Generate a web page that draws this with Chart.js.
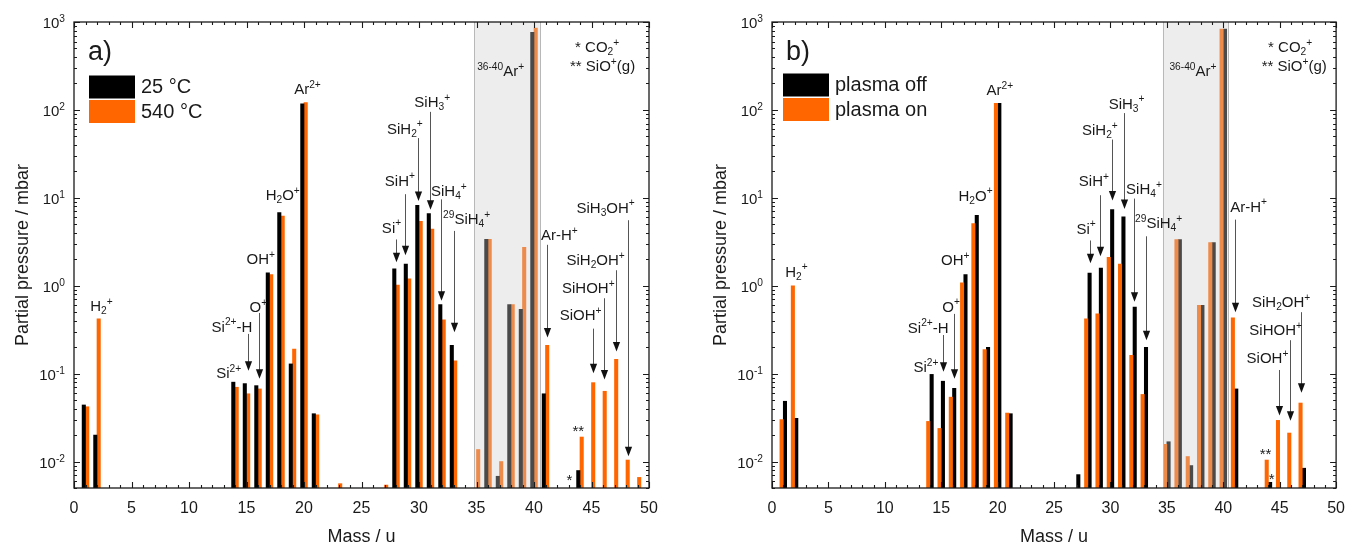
<!DOCTYPE html>
<html>
<head>
<meta charset="utf-8">
<script src="https://cdn.jsdelivr.net/npm/chart.js@4.4.1/dist/chart.umd.min.js"></script>
<style>
  html, body { margin: 0; padding: 0; background: #fff; }
  body { width: 1356px; height: 548px; position: relative; overflow: hidden; }
  canvas { position: absolute; top: 0; }
</style>
</head>
<body>
<canvas id="chartA" width="698" height="548" style="left:0"></canvas>
<canvas id="chartB" width="658" height="548" style="left:698px"></canvas>
<script>
// ---------------- DATA ----------------
// Panel a) : 25 °C vs 540 °C
const massesA = [1, 2, 14, 15, 16, 17, 18, 19, 20, 21, 23, 27, 28, 29, 30, 31, 32, 33, 35, 36, 37, 38, 39, 40, 41, 44, 45, 46, 47, 48, 49];
const temp25 = [0.044, 0.020, 0.080, 0.077, 0.073, 1.40, 6.8, 0.129, 117, 0.035, null, null, 1.56, 1.76, 8.2, 6.6, 0.61, 0.21, null, 3.37, 0.0068, 0.61, 0.54, 764, 0.059, 0.0079, null, null, null, null, null];
const temp540 = [0.042, 0.42, 0.070, 0.059, 0.067, 1.34, 6.2, 0.19, 121, 0.034, 0.0056, 0.0054, 1.02, 1.20, 5.4, 4.4, 0.41, 0.14, 0.0137, 3.37, 0.010, 0.61, 2.74, 853, 0.21, 0.019, 0.079, 0.063, 0.145, 0.0104, 0.0066];

// Panel b) : plasma off vs plasma on
const massesB = [1, 2, 14, 15, 16, 17, 18, 19, 20, 21, 27, 28, 29, 30, 31, 32, 33, 35, 36, 37, 38, 39, 40, 41, 44, 45, 46, 47];
const plasmaOff = [0.0485, 0.031, 0.098, 0.082, 0.068, 1.34, 6.3, 0.199, 119, 0.035, 0.0071, 1.39, 1.59, 7.35, 6.06, 0.57, 0.199, 0.0168, 3.34, 0.009, 0.60, 3.10, 830, 0.067, 0.0058, null, null, 0.0084];
const plasmaOn = [0.030, 1.0, 0.0286, 0.0238, 0.054, 1.08, 5.1, 0.188, 119, 0.0356, null, 0.42, 0.48, 2.11, 1.76, 0.161, 0.058, 0.0157, 3.34, 0.0114, 0.60, 3.10, 830, 0.43, 0.0104, 0.0294, 0.0211, 0.0463];

// Axis ranges & tick labels
const massTicks = [0, 5, 10, 15, 20, 25, 30, 35, 40, 45, 50];
const pressureExponents = [-2, -1, 0, 1, 2, 3];
const argonRange = { a: [34.8, 40.5], b: [34.65, 40.4] };

// Peak labels: [text, mass, pressure]
const peakLabelsA = [
  ['H_2^+', 2.38, 0.59], ['Si^{2+}', 13.45, 0.103], ['Si^{2+}-H', 13.74, 0.346], ['O^+', 16.03, 0.578],
  ['OH^+', 16.24, 2.03], ['H_2O^+', 18.15, 10.8], ['Ar^{2+}', 20.3, 175], ['Si^+', 27.61, 4.62],
  ['SiH^+', 28.34, 15.9], ['SiH_2^+', 28.77, 61.8], ['SiH_3^+', 31.15, 123], ['SiH_4^+', 32.6, 12.1],
  ['^{29}SiH_4^+', 34.14, 5.81], ['^{36-40}Ar^+', 37.1, 280], ['Ar-H^+', 42.2, 3.78],
  ['SiH_3OH^+', 46.23, 7.8], ['SiH_2OH^+', 45.36, 1.97], ['SiHOH^+', 44.72, 0.948], ['SiOH^+', 44.05, 0.469],
  ['**', 43.85, 0.0224], ['*', 43.07, 0.0062]
];
// Arrows: [mass, from pressure, to pressure]
const arrowsA = [
  [15.15, 0.283, 0.108], [16.1, 0.49, 0.0877], [27.96, 3.36, 1.85], [28.8, 11.0, 2.22],
  [29.87, 47.8, 9.18], [30.95, 95, 7.3], [31.87, 9.6, 0.676], [33.06, 4.2, 0.296],
  [41.15, 2.92, 0.258], [48.14, 5.56, 0.0115], [47.13, 1.5, 0.179], [46.11, 0.72, 0.086], [45.16, 0.325, 0.101]
];
const peakLabelsB = [
  ['H_2^+', 2.16, 1.46], ['Si^{2+}', 13.65, 0.119], ['Si^{2+}-H', 13.85, 0.337], ['O^+', 15.87, 0.583],
  ['OH^+', 16.25, 1.97], ['H_2O^+', 18.04, 10.7], ['Ar^{2+}', 20.2, 171], ['Si^+', 27.84, 4.5],
  ['SiH^+', 28.53, 15.5], ['SiH_2^+', 29.06, 60], ['SiH_3^+', 31.43, 119], ['SiH_4^+', 32.97, 12.7],
  ['^{29}SiH_4^+', 34.27, 5.16], ['^{36-40}Ar^+', 37.31, 280], ['Ar-H^+', 42.24, 8.0],
  ['SiH_2OH^+', 45.13, 0.652], ['SiHOH^+', 44.64, 0.316], ['SiOH^+', 43.92, 0.152],
  ['**', 43.74, 0.01245], ['*', 44.29, 0.0064]
];
const arrowsB = [
  [15.15, 0.275, 0.105], [16.1, 0.478, 0.0877], [28.19, 3.27, 1.8], [29.06, 10.7, 2.16],
  [30.13, 46, 9.35], [31.23, 92, 7.45], [32.1, 9.8, 0.658], [33.14, 3.65, 0.24],
  [41.05, 5.65, 0.499], [46.93, 0.5, 0.0608], [45.92, 0.24, 0.0292], [44.93, 0.11, 0.0335]
];
// Footnotes: [text, mass, pressure] (left aligned)
const notesA = [['* CO_2^+', 43.57, 523], ['** SiO^+(g)', 43.13, 316]];
const notesB = [['* CO_2^+', 43.97, 523], ['** SiO^+(g)', 43.4, 316]];

// ---------------- RENDERING ----------------
const FONT = "'Liberation Sans', Arial, Helvetica, sans-serif";
const INK = '#1a1a1a';
const BLACK = '#000000';
const ORANGE = '#ff6600';

function parseRich(s) {
  const segs = []; let cur = ''; let i = 0;
  const push = (t, m) => { if (t) segs.push({ t, m }); };
  while (i < s.length) {
    const c = s[i];
    if (c === '^' || c === '_') {
      push(cur, 'n'); cur = '';
      let t;
      if (s[i + 1] === '{') { const j = s.indexOf('}', i); t = s.slice(i + 2, j); i = j + 1; }
      else { t = s[i + 1]; i += 2; }
      push(t, c === '^' ? 'sup' : 'sub');
    } else { cur += c; i++; }
  }
  push(cur, 'n');
  return segs;
}

function drawRich(ctx, s, x, y, size, align) {
  const segs = parseRich(s);
  const small = size * 0.68;
  let w = 0;
  const widths = segs.map(sg => {
    ctx.font = (sg.m === 'n' ? size : small) + 'px ' + FONT;
    const ww = ctx.measureText(sg.t).width; w += ww; return ww;
  });
  let cx = align === 'center' ? x - w / 2 : (align === 'right' ? x - w : x);
  const base = y + size * 0.36;
  ctx.textAlign = 'left';
  ctx.textBaseline = 'alphabetic';
  ctx.fillStyle = INK;
  segs.forEach((sg, k) => {
    let by = base;
    if (sg.m === 'sup') by = base - size * 0.42;
    if (sg.m === 'sub') by = base + size * 0.2;
    ctx.font = (sg.m === 'n' ? size : small) + 'px ' + FONT;
    ctx.fillText(sg.t, cx, by);
    cx += widths[k];
  });
}

function makePanelPlugin(cfg) {
  return {
    id: 'panel' + cfg.letter,
    afterDatasetsDraw(chart) {
      const ctx = chart.ctx;
      const xs = chart.scales.x, ys = chart.scales.y;
      const { left, right, top, bottom } = chart.chartArea;
      ctx.save();
      // shaded argon region
      const x0 = xs.getPixelForValue(cfg.region[0]);
      const x1 = xs.getPixelForValue(cfg.region[1]);
      ctx.fillStyle = 'rgba(205,205,205,0.36)';
      ctx.fillRect(x0, top, x1 - x0, bottom - top);
      ctx.strokeStyle = '#b8b8b8';
      ctx.lineWidth = 1;
      ctx.beginPath();
      ctx.moveTo(Math.round(x0) + 0.5, top); ctx.lineTo(Math.round(x0) + 0.5, bottom);
      ctx.moveTo(Math.round(x1) + 0.5, top); ctx.lineTo(Math.round(x1) + 0.5, bottom);
      ctx.stroke();

      // frame
      ctx.strokeStyle = INK;
      ctx.lineWidth = 1.3;
      ctx.strokeRect(left, top, right - left, bottom - top);

      // ticks (inward)
      ctx.lineWidth = 1.1;
      ctx.beginPath();
      for (let m = 0; m <= 50; m++) {
        const px = Math.round(xs.getPixelForValue(m)) + 0.5;
        const len = m % 5 === 0 ? 6 : 3;
        ctx.moveTo(px, bottom); ctx.lineTo(px, bottom - len);
        ctx.moveTo(px, top); ctx.lineTo(px, top + len);
      }
      for (let n = -3; n <= 3; n++) {
        for (let k = 1; k <= 9; k++) {
          const v = k * Math.pow(10, n);
          if (v < ys.min * 0.999 || v > ys.max * 1.001) continue;
          const py = Math.round(ys.getPixelForValue(v)) + 0.5;
          const len = k === 1 ? 6 : 3;
          ctx.moveTo(left, py); ctx.lineTo(left + len, py);
          ctx.moveTo(right, py); ctx.lineTo(right - len, py);
        }
      }
      ctx.stroke();

      // y tick labels
      pressureExponents.forEach(e => {
        const py = ys.getPixelForValue(Math.pow(10, e));
        drawRich(ctx, '10^{' + e + '}', left - 9, py + 1, 15, 'right');
      });

      // arrows
      cfg.arrows.forEach(([m, v0, v1]) => {
        const px = Math.round(xs.getPixelForValue(m)) + 0.5;
        const y0 = ys.getPixelForValue(v0);
        const y1 = ys.getPixelForValue(v1);
        ctx.strokeStyle = '#555';
        ctx.lineWidth = 1;
        ctx.beginPath(); ctx.moveTo(px, y0); ctx.lineTo(px, y1 - 8); ctx.stroke();
        ctx.fillStyle = '#111';
        ctx.beginPath();
        ctx.moveTo(px, y1); ctx.lineTo(px - 3.6, y1 - 9.5); ctx.lineTo(px + 3.6, y1 - 9.5); ctx.closePath();
        ctx.fill();
      });

      // peak labels
      cfg.labels.forEach(([t, m, v]) => {
        drawRich(ctx, t, xs.getPixelForValue(m), ys.getPixelForValue(v), 15, 'center');
      });
      cfg.notes.forEach(([t, m, v]) => {
        drawRich(ctx, t, xs.getPixelForValue(m), ys.getPixelForValue(v), 15, 'left');
      });

      // panel letter
      ctx.fillStyle = INK;
      ctx.font = '27px ' + FONT;
      ctx.textAlign = 'left';
      ctx.textBaseline = 'middle';
      ctx.fillText(cfg.letter + ')', left + 14, top + 31);

      // legend
      cfg.legend.forEach((it, i) => {
        const bx = left + cfg.legendDx;
        const by = top + cfg.legendDy + i * 24.5;
        ctx.fillStyle = it.color;
        ctx.fillRect(bx, by, 46, 23);
        ctx.fillStyle = INK;
        ctx.font = '20px ' + FONT;
        ctx.textAlign = 'left';
        ctx.textBaseline = 'middle';
        ctx.fillText(it.label, bx + 52, by + 12);
      });
      ctx.restore();
    }
  };
}

function points(masses, values) {
  const out = [];
  masses.forEach((m, i) => { if (values[i] != null) out.push({ x: m, y: values[i] }); });
  return out;
}

function makeChart(canvasId, datasets, rightPad, plugin) {
  return new Chart(document.getElementById(canvasId), {
    type: 'bar',
    data: { datasets },
    options: {
      responsive: false,
      animation: false,
      devicePixelRatio: 1,
      layout: { padding: { left: 0, right: rightPad, top: 22, bottom: 0 } },
      plugins: { legend: { display: false }, tooltip: { enabled: false } },
      scales: {
        x: {
          type: 'linear', min: 0, max: 50, offset: false,
          grid: { display: false, drawTicks: false },
          border: { display: false },
          afterBuildTicks(s) { s.ticks = massTicks.map(v => ({ value: v })); },
          ticks: { autoSkip: false, maxRotation: 0, padding: 11, color: INK, font: { family: FONT, size: 16 } },
          title: { display: true, text: 'Mass / u', color: INK, font: { family: FONT, size: 18 }, padding: { top: 0, bottom: 0 } },
          afterFit(s) { s.height = 60; }
        },
        y: {
          type: 'logarithmic', min: 0.005, max: 1000,
          grid: { display: false, drawTicks: false },
          border: { display: false },
          ticks: { display: false },
          title: { display: true, text: 'Partial pressure / mbar', color: INK, font: { family: FONT, size: 18 }, padding: { top: 12, bottom: 0 } },
          afterFit(s) { s.width = 74; }
        }
      }
    },
    plugins: [plugin]
  });
}

const barStyle = { barThickness: 3.4, borderWidth: 0 };

makeChart('chartA', [
  Object.assign({ label: '25 °C', data: points(massesA, temp25), backgroundColor: BLACK }, barStyle),
  Object.assign({ label: '540 °C', data: points(massesA, temp540), backgroundColor: ORANGE }, barStyle)
], 49, makePanelPlugin({
  letter: 'a', region: argonRange.a, labels: peakLabelsA, arrows: arrowsA, notes: notesA,
  legendDx: 15, legendDy: 53.5,
  legend: [{ label: '25 °C', color: BLACK }, { label: '540 °C', color: ORANGE }]
}));

makeChart('chartB', [
  Object.assign({ label: 'plasma on', data: points(massesB, plasmaOn), backgroundColor: ORANGE }, barStyle),
  Object.assign({ label: 'plasma off', data: points(massesB, plasmaOff), backgroundColor: BLACK }, barStyle)
], 9, makePanelPlugin({
  letter: 'b', region: argonRange.b, labels: peakLabelsB, arrows: arrowsB, notes: notesB,
  legendDx: 11, legendDy: 51.5,
  legend: [{ label: 'plasma off', color: BLACK }, { label: 'plasma on', color: ORANGE }]
}));
</script>
</body>
</html>
